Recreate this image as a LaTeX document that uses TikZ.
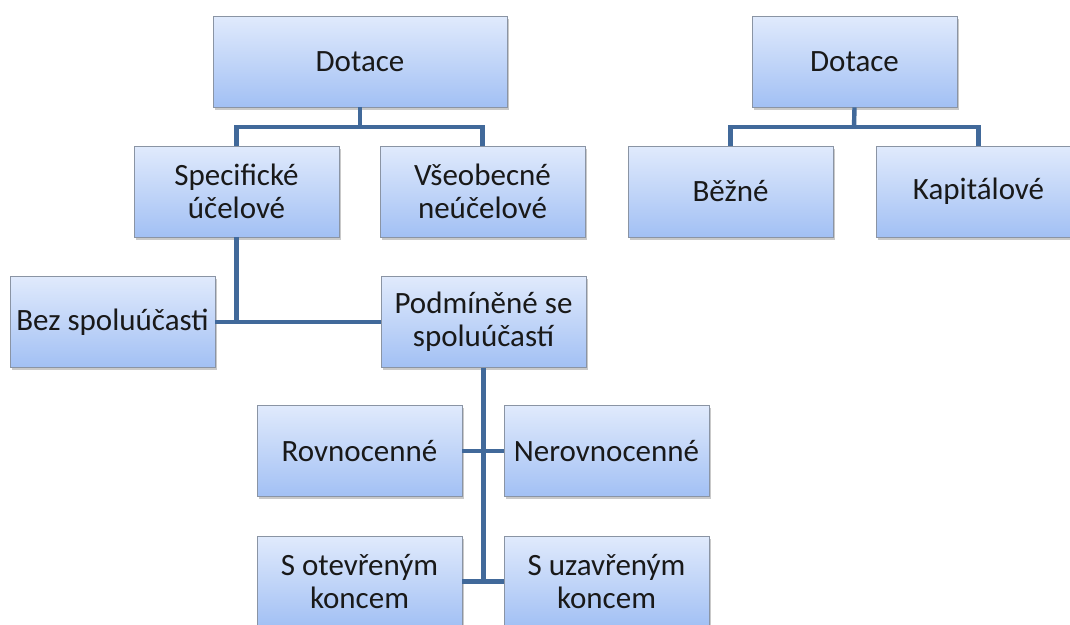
\documentclass[tikz,border=0pt]{standalone}
\usepackage{fontspec}
\setmainfont{Carlito}
\usetikzlibrary{shadows}
\definecolor{boxtop}{HTML}{E0EAFC}
\definecolor{boxbot}{HTML}{A2C0F4}
\definecolor{boxline}{HTML}{8A94A4}
\definecolor{linkblue}{HTML}{41699A}
\tikzset{
  orgbox/.style={draw=boxline, line width=0.9pt, top color=boxtop, bottom color=boxbot,
    minimum width=205pt, minimum height=91pt, align=center, inner sep=2pt,
    font=\fontsize{31}{33}\selectfont, text=black!90,
    drop shadow={shadow xshift=2pt, shadow yshift=-2.5pt, opacity=0.35, fill=black!60}},
  link/.style={draw=linkblue, line width=4.4pt}
}
\begin{document}
\begin{tikzpicture}[x=1pt,y=-1pt]
\clip (0,0) rectangle (1070,624);
\useasboundingbox (0,0) rectangle (1070,624);
\fill[white] (0,0) rectangle (1070,624);

% connector junctions
\coordinate (jl) at (360,127);
\coordinate (jr) at (854,127);

% left tree
\node[orgbox, minimum width=294pt] (dotL) at (360,61.5) {Dotace};
\node[orgbox] (spec) at (236.5,191.5) {Specifické\\účelové};
\node[orgbox] (vseo) at (482.5,191.5) {Všeobecné\\neúčelové};
\node[orgbox] (bez) at (112.5,322) {Bez spoluúčasti};
\node[orgbox] (podm) at (483.5,322) {Podmíněné se\\spoluúčastí};
\node[orgbox] (rovn) at (359.5,451) {Rovnocenné};
\node[orgbox] (nerov) at (606.5,451) {Nerovnocenné};
\node[orgbox] (sotev) at (359.5,581.5) {S otevřeným\\koncem};
\node[orgbox] (suzav) at (606.5,581.5) {S uzavřeným\\koncem};

% right tree
\node[orgbox] (dotR) at (854.5,61.5) {Dotace};
\node[orgbox] (bezne) at (730.5,191.5) {Běžné};
\node[orgbox] (kapit) at (978.5,191.5) {Kapitálové};

% connectors
\draw[link] (dotL.south) -- (jl);
\draw[link] (spec.north) |- (jl) -| (vseo.north);
\draw[link] (spec.south) -- (spec.south |- bez.east);
\draw[link] (bez.east) -- (podm.west);
\draw[link] (podm.south) -- (podm.south |- sotev.east);
\draw[link] (rovn.east) -- (nerov.west);
\draw[link] (sotev.east) -- (suzav.west);
\draw[link] (dotR.south) -- (jr);
\draw[link] (bezne.north) |- (jr) -| (kapit.north);
\end{tikzpicture}
\end{document}
